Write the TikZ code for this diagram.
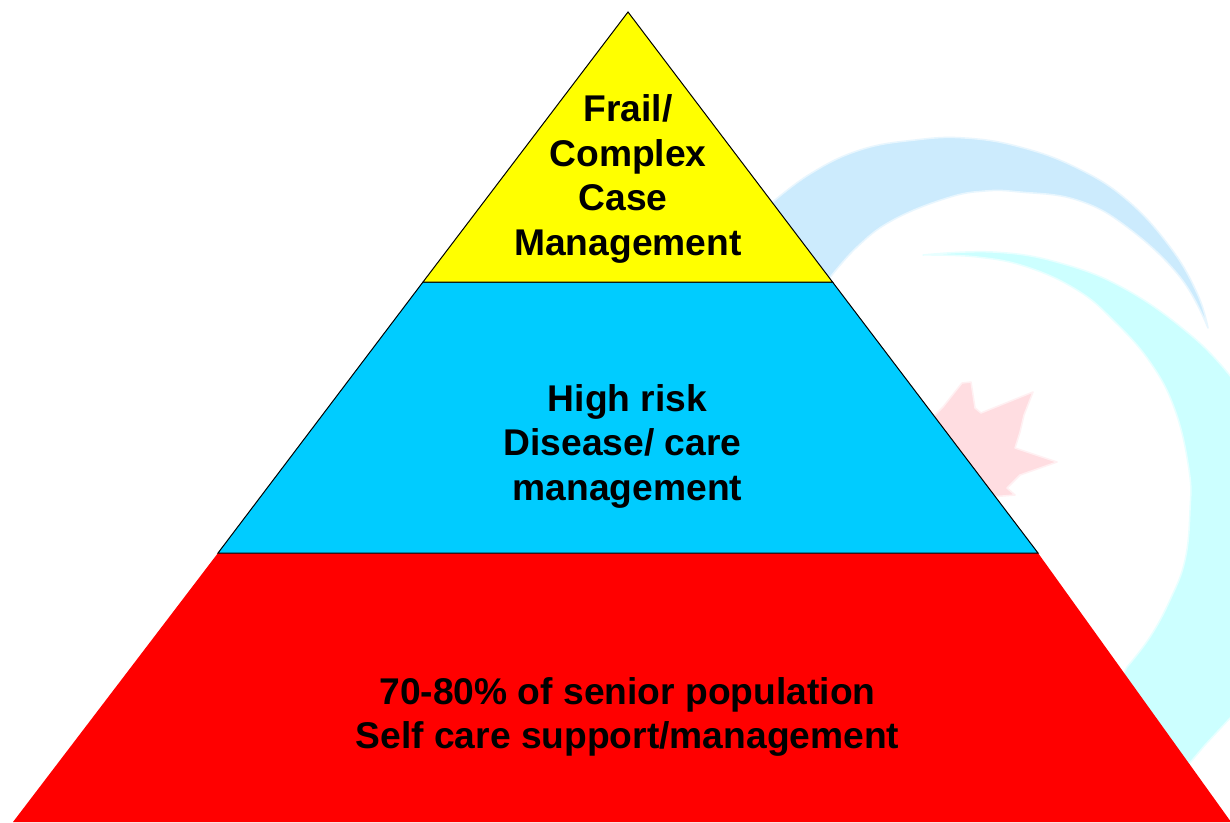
\documentclass[tikz,border=0pt]{standalone}
\usepackage{fontspec}
\setmainfont{Liberation Sans}
\definecolor{tierY}{RGB}{255,255,0}
\definecolor{tierB}{RGB}{0,204,255}
\definecolor{tierR}{RGB}{255,0,0}
\definecolor{wmBlue}{RGB}{204,235,253}
\definecolor{wmCyan}{RGB}{204,255,255}
\definecolor{wmRed}{RGB}{255,221,225}
\tikzset{
  tierlabel/.style={align=center,inner sep=0pt,font=\fontsize{37.2}{44.5}\bfseries\selectfont,text=black},
  tieredge/.style={draw=black,line width=1pt,line join=miter}
}
\begin{document}
\begin{tikzpicture}[x=1pt,y=-1pt]
\useasboundingbox (0,0) rectangle (1230,822);
\fill[white] (0,0) rectangle (1230,822);
% watermark
\path[fill=wmBlue,draw=wmBlue!45,line width=1.5pt,line join=round] plot[smooth,tension=0.7] coordinates {(768,206) (810,174) (860,150) (915,140) (965,138) (1020,147) (1077,168) (1127,200) (1170,247) (1197,293) (1208,328)}
  -- plot[smooth,tension=0.7] coordinates {(1208,328) (1180,277) (1127,227) (1077,200) (1020,192) (985,191) (947,198) (893,220) (857,247) (828,280)} -- cycle;
\path[fill=wmCyan,draw=wmCyan!45,line width=1.5pt,line join=round] plot[smooth,tension=0.7] coordinates {(923,255) (993,252) (1060,263) (1127,290) (1193,337) (1231,377)}
  -- (1231,717) -- (1205,745) -- (1188,765) -- (1120,680)
  -- plot[smooth,tension=0.7] coordinates {(1127,667) (1150,637) (1170,600) (1185,560) (1190,510) (1189,470) (1175,410) (1150,362) (1113,320) (1077,290) (1027,267) (977,257) (923,255)} -- cycle;
\path[fill=wmRed,draw=wmRed!45,line width=1.5pt,line join=round] (971,382) -- (975,408) -- (981,413) -- (1033,392) -- (1024,415) -- (1020,432) -- (1015,448) -- (1057,462) -- (1020,475) -- (1007,488) -- (1015,495) -- (990,497) -- (930,420) -- (943,407) -- (962,383) -- cycle;
% pyramid
\coordinate (apex) at (628,12);
\coordinate (l1) at (423,282);
\coordinate (r1) at (832.5,282);
\coordinate (l2) at (218,553);
\coordinate (r2) at (1038,553);
\coordinate (l3) at (13,822);
\coordinate (r3) at (1231,822);
\fill[tierR] (l2) -- (r2) -- (r3) -- (l3) -- cycle;
\path[tieredge,fill=tierB] (l1) -- (r1) -- (r2) -- (l2) -- cycle;
\path[tieredge,fill=tierY] (apex) -- (r1) -- (l1) -- cycle;
% labels
\node[tierlabel] (top) at (628,179) {Frail/\\Complex\\Case\kern10pt\relax\\Management};
\node[tierlabel] (mid) at (627.5,446) {High risk\\Disease/ care\kern10pt\relax\\management};
\node[tierlabel] (low) at (627.5,717) {70-80\% of senior population\\Self care support/management};
\end{tikzpicture}
\end{document}
